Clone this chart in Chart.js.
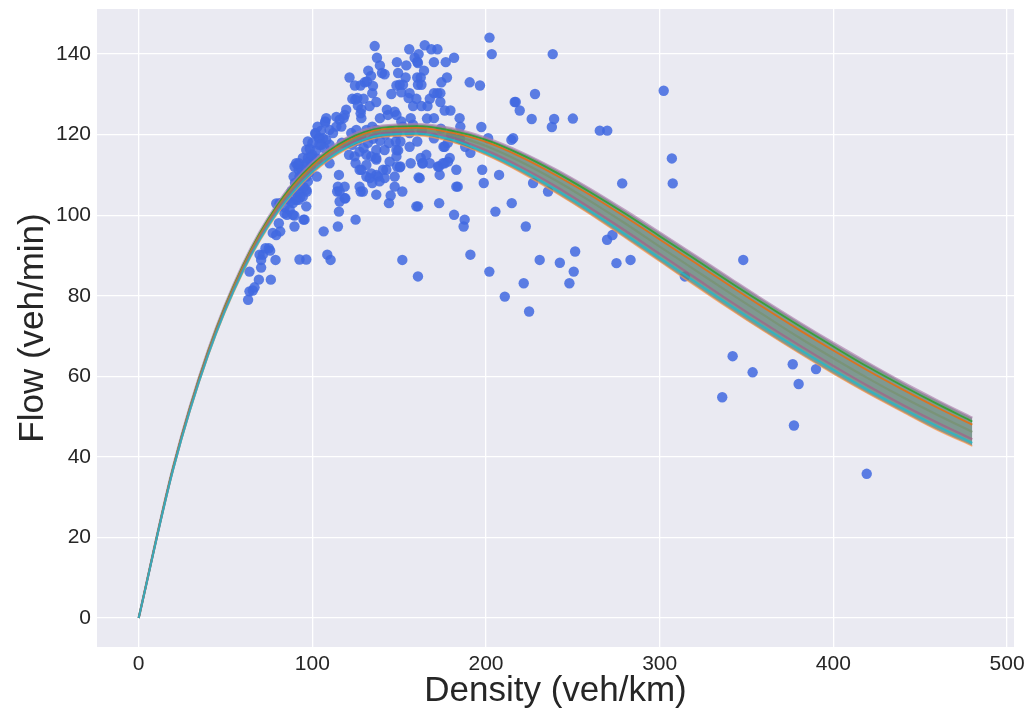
<!DOCTYPE html>
<html>
<head>
<meta charset="utf-8">
<title>Flow vs Density</title>
<script src="https://cdn.jsdelivr.net/npm/chart.js@4.4.1/dist/chart.umd.min.js"></script>
<style>
  html, body { margin: 0; padding: 0; background: #ffffff; }
  #wrap { width: 1032px; height: 716px; }
</style>
</head>
<body>
<div id="wrap"><canvas id="fdChart" width="1032" height="716"></canvas></div>
<script>
// ===== DATA =====
// Density grid for the fitted flow-density curves (veh/km)
const densityGrid = [0, 20, 40, 60, 80, 100, 120, 140, 160, 180, 200, 220, 240,
                     260, 280, 300, 320, 340, 360, 380, 400, 420, 440, 460, 480];

// Fitted curves, lowest to highest (veh/min)
const fitLow     = [0, 36.9, 65.0, 85.7, 100.4, 110.3, 116.4, 119.4, 119.8, 118.2, 114.9, 110.6, 105.6, 100.2, 94.4, 88.5, 82.6, 76.8, 71.2, 65.8, 60.6, 55.7, 51.1, 46.6, 42.7];
const fitLowMid  = [0, 37.1, 65.3, 86.1, 100.8, 110.8, 116.9, 119.9, 120.3, 118.8, 115.5, 111.3, 106.4, 101.0, 95.3, 89.4, 83.6, 77.8, 72.2, 66.8, 61.6, 56.6, 52.0, 47.6, 43.5];
const fitMidLow  = [0, 37.2, 65.5, 86.4, 101.3, 111.2, 117.4, 120.3, 120.7, 119.3, 116.1, 112.0, 107.2, 101.8, 96.2, 90.4, 84.6, 78.8, 73.2, 67.8, 62.6, 57.6, 52.9, 48.5, 44.4];
const fitMid     = [0, 37.4, 65.8, 86.8, 101.7, 111.7, 117.9, 120.8, 121.2, 119.9, 117.2, 113.3, 108.7, 103.5, 98.0, 92.2, 86.5, 80.8, 75.2, 69.7, 64.5, 59.5, 54.8, 50.4, 46.2];
const fitMidHigh = [0, 37.6, 66.1, 87.2, 102.1, 112.2, 118.3, 121.3, 121.7, 120.5, 118.2, 114.5, 110.0, 105.0, 99.6, 94.0, 88.3, 82.6, 77.0, 71.6, 66.4, 61.4, 56.7, 52.2, 48.0];
const fitHighMid = [0, 37.7, 66.3, 87.5, 102.6, 112.6, 118.8, 121.7, 122.1, 121.0, 118.7, 115.1, 110.7, 105.7, 100.4, 94.8, 89.2, 83.5, 78.0, 72.6, 67.4, 62.3, 57.6, 53.1, 48.8];
const fitHigh    = [0, 37.9, 66.6, 87.9, 103.0, 113.1, 119.3, 122.2, 122.6, 121.6, 119.2, 115.7, 111.4, 106.5, 101.2, 95.7, 90.1, 84.5, 78.9, 73.5, 68.3, 63.3, 58.5, 54.0, 49.7];

// Observed density (veh/km)
const obsDensity = [
  202, 203.3, 238.4, 302.3, 307, 307.5, 250, 265.5, 269.8, 278.4, 269.7, 272.8, 251.3, 242.5,
  250.5, 248, 275.1, 283.2, 314.5, 348.1, 342, 353.5, 336, 376.6, 380, 390, 377.3, 419.2,
  190.6, 196.5, 228.2, 216.5, 217.1, 219.4, 226.3, 239.2, 237.9, 197.3, 215.6, 214.6, 201.2, 184.8,
  175.5, 197.8, 207.5, 198.7, 227.1, 235.7, 214.8, 205.4, 183.7, 182.9, 173, 181.6, 187.7, 187.1,
  222.9, 191, 230.9, 201.9, 221.7, 210.8, 224.8, 160.8, 151.8, 108.6, 110.5, 106.5, 114.7, 124.9,
  115.3, 96.5, 94.9, 92.6, 96.5, 159.9, 160.8, 144.1, 145.1, 136.8, 151.8, 127.8, 129.1, 119,
  114.3, 118.6, 173.3, 173, 161.8, 150.7,
  155.8, 164.7, 168.5, 172, 161.2, 158.9, 160.4, 181.6, 148.7, 170, 176.8, 154.1, 160.8, 164.3,
  149.4, 153.7, 160.4, 162.4, 150.3, 152.2, 151.2, 174.3, 177.5, 160.8, 162.8, 156, 155.4, 159.9,
  170, 172, 173.7, 167.6, 173.7, 158, 162.8, 166.3, 176.2, 179.5, 147.4, 148.4, 156.6, 170,
  185.2, 151.2, 148.7, 156, 170, 150.7, 156, 160.4, 176.2, 149.4, 162.4, 165.6, 163.6, 167.6,
  172.3, 175.2, 179.1, 156.6, 147.4, 161.2,
  135.9, 137.2, 138.9, 132.2, 133.8, 131.4, 130.1, 140.1, 141.6, 121.4, 124.5, 127.7, 134.9, 148.4,
  134.5, 145.5, 123, 125.9, 124.7, 129.5, 136.8, 126.2, 128.2, 133, 119.5, 118.6, 127.8, 128.2,
  138.9, 142.9, 143.5, 108, 107.4, 113.8, 115.7, 116.7, 118, 109.9, 113.8, 111.9, 101.7, 97.4,
  96.5, 97.4, 94.5, 91.6, 89.7, 92.1, 89.2, 92.6, 99.4, 102.6, 106.1, 108, 103.7, 105.1,
  109.9, 106.8, 121.1, 124.3, 127.2, 131.1, 133.9, 129.5, 136.8, 124.9, 131.1, 128.2, 136.8, 115.3,
  131.1, 133.9, 140.7, 137.8, 141.6, 144.1, 148, 148.4, 144.5, 148.4, 148.8, 122.4, 125.3, 131.1,
  134.5, 136.8,
  109.9, 127.2, 136.8, 142.6, 141.6, 136.8, 133, 138.7, 134.5, 147.4, 150.3, 163.3, 176.2, 178.1,
  182.9, 114.7, 115.7, 118.6, 127.2,
  63, 63.8, 65.7, 66.7, 69.2, 76.1, 63.8, 70.5, 69.6, 71.5, 70.5, 73, 74.9, 75.7,
  78.8, 79.2, 81.5, 80.7, 89.7, 85.4, 84, 89.7, 79.2, 81.1, 88.8, 86.9, 90.7, 92.6,
  94.5, 96.5, 97.4, 96.5, 95.5, 93.6, 90.7, 92.2, 101.8, 104.2, 107.4, 115.7, 96.8, 99.4,
  77.2, 88.8, 95.5,
  86, 88, 90, 91, 93, 94, 87.5, 92, 95, 93, 84, 98, 99, 97,
  100, 98.5, 102, 103, 104, 100, 105, 103, 120, 123, 126, 132, 135, 139,
  142, 145, 128, 117, 152, 158, 163, 166, 174, 180, 178, 185, 188, 191
];

// Observed flow (veh/min), same order as obsDensity
const obsFlow = [
  144.1, 140, 140, 130.9, 114.1, 107.9, 124, 121, 121, 107.9, 93.9, 95.1, 91, 88.2,
  86, 83.1, 88.1, 88.9, 84.8, 88.9, 65, 61, 54.8, 63, 58.1, 61.8, 47.8, 35.8,
  133, 132.2, 130.1, 128.1, 128.1, 126, 123.9, 123.9, 121.9, 121.9, 119.1, 118.7, 119.1, 124.1,
  117, 111.3, 110, 108, 108, 105.9, 103, 100.9, 107.1, 111.3, 103, 100.1, 98.9, 97.2,
  97.2, 90.2, 88.9, 86, 83.1, 79.8, 76.1, 84.8, 88.9, 90.2, 88.9, 96, 97.2, 98.9,
  100.9, 102.2, 98.9, 89, 89, 102.2, 102.2, 103, 104.9, 105.1, 105.9, 105.9, 105.9, 104.2,
  105.9, 107.1, 110, 112.1, 109.2, 112.1,
  141.2, 142.2, 141.2, 141.2, 140, 139.1, 138.1, 139.1, 138, 138, 138, 137.2, 137.8, 135.9,
  135.3, 134.2, 134.2, 134.2, 132.4, 132.4, 130.5, 133, 134.2, 132.4, 132.4, 130.3, 129.1, 128.9,
  130.3, 130.3, 130.3, 128.9, 128.1, 127.1, 127.1, 127.1, 126, 126, 125.7, 124.9, 124.1, 124.1,
  122, 123.3, 120.4, 120.4, 119.1, 118.3, 117, 118.3, 117, 116.1, 114.2, 115, 112.9, 112.9,
  112.1, 112.9, 114.2, 112.9, 109.6, 109.4,
  142, 139.1, 137.2, 135.9, 134.6, 133.2, 133, 135.3, 135, 134.2, 132.2, 132.2, 132.1, 132.2,
  130.3, 130.1, 128.9, 129.1, 128.7, 128.9, 128.1, 127.2, 126.3, 127.1, 126.2, 124.9, 125.3, 124.1,
  124.1, 126.2, 124.9, 124.1, 123.3, 124.4, 123.7, 122, 124.1, 121.2, 122, 120.4, 120.4, 118.3,
  116.2, 114.2, 114.2, 112.5, 112.1, 111.3, 109.6, 109.6, 112.9, 109.6, 119.1, 118.7, 119.1, 117.5,
  117.5, 116.7, 115, 114.6, 115.8, 115, 114.6, 116.7, 116.2, 112.9, 112.5, 111.3, 114.2, 110,
  109.6, 110.4, 111.3, 109.6, 116.2, 117.9, 118.3, 116.2, 113.3, 114.6, 112.1, 120.4, 121.2, 121.2,
  122, 121.2,
  112.9, 111.3, 113.8, 111.3, 109.2, 110, 109.2, 108.4, 108, 107.1, 111.9, 112.9, 112.9, 113.3,
  107.1, 107.1, 105.9, 104.2, 107.1,
  79, 81.1, 81.3, 82.1, 84, 84, 86, 87, 90.2, 90.2, 88.9, 91.8, 91.8, 91.2,
  88.9, 95.1, 96, 98, 97.2, 100.1, 100.5, 99.9, 102.9, 103, 103, 101.4, 103.8, 105.5,
  104.6, 106.3, 108.4, 109.6, 112.1, 111.3, 112.9, 112.9, 120.2, 119.1, 123, 103.4, 105.9, 114.6,
  95.6, 100.1, 98.9,
  104, 106, 108, 105.5, 107.5, 110, 103.5, 103.8, 107, 104.5, 102, 110.5, 112, 113,
  115, 116.5, 116, 114, 117.5, 118, 121, 122, 118, 117.5, 118.5, 118, 119, 118.5,
  120, 121, 119.5, 118, 122, 122.5, 121, 124, 121.5, 120, 118, 119, 117, 115.5
];

// Axis ticks
const densityTicks = [0, 100, 200, 300, 400, 500];
const flowTicks = [0, 20, 40, 60, 80, 100, 120, 140];

// ===== HELPERS =====
function curvePoints(values) {
    return densityGrid.map((k, i) => ({ x: k, y: values[i] }));
}

function fitLine(values, color, width) {
    return {
        data: curvePoints(values),
        borderColor: color,
        borderWidth: width,
        pointRadius: 0,
        fill: false,
        cubicInterpolationMode: 'monotone',
        order: 0
    };
}

// Label overflow padding would push the plot area in; the frame is fixed instead
function noEdgePadding(scale) {
    scale.paddingTop = 0;
    scale.paddingBottom = 0;
    scale.paddingLeft = 0;
    scale.paddingRight = 0;
}

// Paints the axes face behind the grid
const plotBackground = {
    id: 'plotBackground',
    beforeDraw(chart) {
        const { ctx, chartArea } = chart;
        ctx.save();
        ctx.fillStyle = '#eaeaf2';
        ctx.fillRect(chartArea.left, chartArea.top, chartArea.width, chartArea.height);
        ctx.restore();
    }
};

// ===== CHART =====
Chart.defaults.font.family = '"Liberation Sans", Arial, sans-serif';
Chart.defaults.color = '#262626';

const observations = obsDensity.map((k, i) => ({ x: k, y: obsFlow[i] }));

// Lines with the same order are painted last-listed first, so the
// first entry here ends up on top
const datasets = [
    {
        data: observations,
        showLine: false,
        pointRadius: 5.2,
        pointHoverRadius: 5.2,
        pointBorderWidth: 0,
        pointBackgroundColor: 'rgba(65,105,225,0.85)',
        order: 3
    },
    // spread of the fits: lower edge, then upper edge filled down to it
    {
        data: curvePoints(fitLow),
        borderWidth: 0,
        pointRadius: 0,
        fill: false,
        cubicInterpolationMode: 'monotone',
        order: 2
    },
    {
        data: curvePoints(fitHigh),
        borderWidth: 0,
        pointRadius: 0,
        fill: '-1',
        backgroundColor: 'rgba(100,132,120,0.8)',
        cubicInterpolationMode: 'monotone',
        order: 2
    },
    fitLine(fitLowMid, 'rgba(23,190,207,0.75)', 2),
    fitLine(fitMidLow, 'rgba(170,85,135,0.6)', 2.2),
    fitLine(fitMid, 'rgba(120,145,110,0.7)', 2.2),
    fitLine(fitMidHigh, 'rgba(230,110,20,0.9)', 1.8),
    fitLine(fitHighMid, 'rgba(44,160,44,0.85)', 1.8),
    fitLine(fitHigh, 'rgba(170,125,170,0.65)', 2.4),
    fitLine(fitLow, 'rgba(255,150,70,0.7)', 1.4)
];

new Chart(document.getElementById('fdChart'), {
    type: 'line',
    data: { datasets },
    options: {
        responsive: false,
        animation: false,
        devicePixelRatio: 1,
        layout: { padding: { left: 0, right: 18, top: 9, bottom: 0 } },
        plugins: {
            legend: { display: false },
            tooltip: { enabled: false }
        },
        scales: {
            x: {
                type: 'linear',
                min: -24,
                max: 504,
                afterBuildTicks: (scale) => { scale.ticks = densityTicks.map(v => ({ value: v })); },
                afterFit: (scale) => { scale.height = 69; noEdgePadding(scale); },
                grid: { color: '#ffffff', lineWidth: 1.3, drawTicks: false },
                border: { display: false },
                ticks: { padding: 5, font: { size: 21 }, color: '#262626' },
                title: {
                    display: true,
                    text: 'Density (veh/km)',
                    font: { size: 35 },
                    color: '#262626',
                    padding: { top: 0, bottom: 4 }
                }
            },
            y: {
                type: 'linear',
                min: -7.2,
                max: 151.2,
                afterBuildTicks: (scale) => { scale.ticks = flowTicks.map(v => ({ value: v })); },
                afterFit: (scale) => { scale.width = 97; noEdgePadding(scale); },
                grid: { color: '#ffffff', lineWidth: 1.3, drawTicks: false },
                border: { display: false },
                ticks: { padding: 6, font: { size: 21 }, color: '#262626' },
                title: {
                    display: true,
                    text: 'Flow (veh/min)',
                    font: { size: 35 },
                    color: '#262626',
                    padding: { top: 12, bottom: 0 }
                }
            }
        }
    },
    plugins: [plotBackground]
});
</script>
</body>
</html>
